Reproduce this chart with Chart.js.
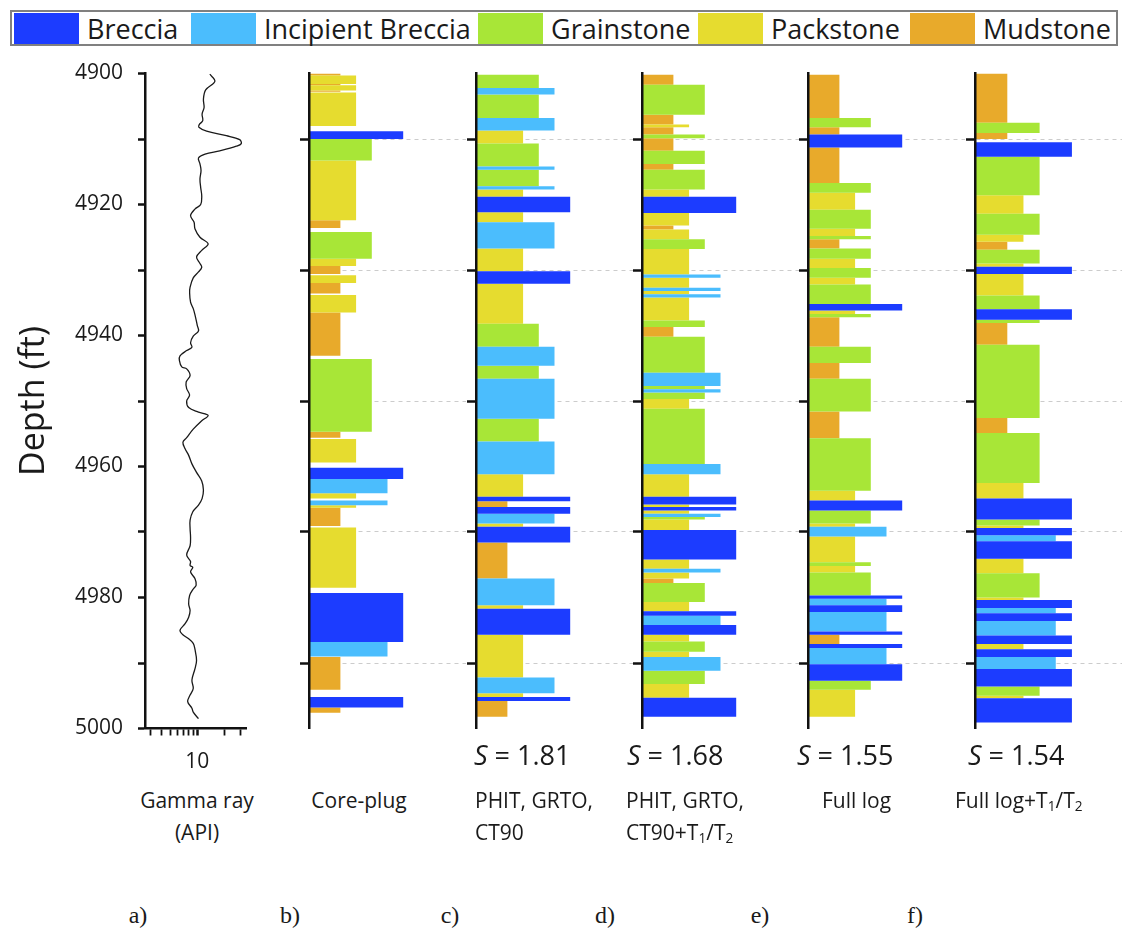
<!DOCTYPE html>
<html>
<head>
<meta charset="utf-8">
<script src="https://cdn.jsdelivr.net/npm/chart.js@4/dist/chart.umd.min.js"></script>
<style>
  body { margin: 0; background: #fff; }
  #page { position: relative; width: 1122px; height: 934px; overflow: hidden;
          font-family: "Open Sans", sans-serif; color: #1a1a1a; }
  canvas { position: absolute; top: 60px; }
  #legend { position: absolute; left: 10px; top: 10px; width: 1108px; height: 36px;
            box-sizing: border-box; border: 2px solid #808080; }
  .lg-item { position: absolute; top: 1px; display: flex; align-items: center; height: 31px; }
  .lg-sw { width: 65px; height: 31px; margin-right: 8px; }
  .lg-tx { font-size: 27px; line-height: 31px; white-space: nowrap; }
  .txt { position: absolute; white-space: nowrap; font-size: 21px; line-height: 32px; }
  .ctr { transform: translateX(-50%); text-align: center; }
  .sval { position: absolute; white-space: nowrap; font-size: 27px; line-height: 36px; }
  .tag { position: absolute; font-family: "Liberation Serif", serif; font-size: 24px;
         line-height: 30px; transform: translateX(-50%); }
  sub { font-size: 0.65em; vertical-align: -0.25em; line-height: 0; }
</style>
</head>
<body>
<div id="page">
  <div id="legend"></div>

  <canvas id="gamma" width="260" height="720" style="left:0px"></canvas>
  <canvas id="colB" width="182" height="720" style="left:284px"></canvas>
  <canvas id="colC" width="182" height="720" style="left:451px"></canvas>
  <canvas id="colD" width="182" height="720" style="left:617px"></canvas>
  <canvas id="colE" width="182" height="720" style="left:783px"></canvas>
  <canvas id="colF" width="172" height="720" style="left:950px"></canvas>

  <div class="txt ctr" style="left:197px; top:784px">Gamma ray<br>(API)</div>
  <div class="txt ctr" style="left:359px; top:784px">Core-plug</div>

  <div class="sval" style="left:474px; top:737px"><i>S</i> = 1.81</div>
  <div class="txt" style="left:475px; top:784px">PHIT, GRTO,<br>CT90</div>

  <div class="sval" style="left:627px; top:737px"><i>S</i> = 1.68</div>
  <div class="txt" style="left:626px; top:784px">PHIT, GRTO,<br>CT90+T<sub>1</sub>/T<sub>2</sub></div>

  <div class="sval" style="left:797px; top:737px"><i>S</i> = 1.55</div>
  <div class="txt" style="left:822px; top:784px">Full log</div>

  <div class="sval" style="left:968px; top:737px"><i>S</i> = 1.54</div>
  <div class="txt" style="left:955px; top:784px">Full log+T<sub>1</sub>/T<sub>2</sub></div>

  <div class="tag" style="left:138px; top:900px">a)</div>
  <div class="tag" style="left:290px; top:900px">b)</div>
  <div class="tag" style="left:450px; top:900px">c)</div>
  <div class="tag" style="left:605px; top:900px">d)</div>
  <div class="tag" style="left:760px; top:900px">e)</div>
  <div class="tag" style="left:915px; top:900px">f)</div>
</div>

<script>
// ---- Facies classes ----------------------------------------------------
const faciesNames  = ['Breccia', 'Incipient Breccia', 'Grainstone', 'Packstone', 'Mudstone'];
const faciesCodes  = ['B', 'IB', 'G', 'P', 'M'];
const faciesRank   = [6, 5, 4, 3, 2];           // bar length of each class
const faciesColors = ['#1c3cff', '#4bbdfd', '#a8e637', '#e6dc2f', '#e8aa2b'];

// ---- Depth axis ---------------------------------------------------------
const depthMin = 4900;
const depthMax = 5000;
const gridDepths = [4910, 4930, 4950, 4970, 4990];

// ---- Gamma ray log (depth ft, API) ---------------------------------------
const gammaDepth = [4900.1, 4901.2, 4902.5, 4903.9, 4905.2, 4906.2, 4907.2, 4907.8, 4908.2, 4908.8,
  4909.5, 4910.1, 4910.7, 4911.1, 4911.8, 4912.3, 4912.9, 4913.8, 4914.8, 4916.1,
  4917.4, 4918.7, 4920.0, 4920.7, 4921.7, 4922.7, 4923.7, 4925.0, 4926.0, 4927.0,
  4928.0, 4929.0, 4929.6, 4930.3, 4931.2, 4932.6, 4933.5, 4934.9, 4935.9, 4936.8,
  4938.5, 4939.3, 4940.1, 4941.1, 4941.8, 4942.3, 4943.1, 4943.8, 4944.8, 4945.1,
  4946.1, 4947.1, 4948.1, 4949.1, 4950.0, 4951.0, 4951.7, 4952.2, 4953.0, 4954.3,
  4955.6, 4956.3, 4957.3, 4958.3, 4959.6, 4960.9, 4962.2, 4963.6, 4964.9, 4965.9,
  4966.9, 4968.2, 4969.5, 4970.8, 4972.1, 4973.5, 4974.5, 4975.1, 4975.4, 4976.1,
  4977.1, 4978.1, 4978.7, 4979.7, 4981.0, 4982.0, 4983.0, 4984.0, 4985.0, 4985.7,
  4986.3, 4987.0, 4987.9, 4989.6, 4990.9, 4992.6, 4993.9, 4994.9, 4995.9, 4996.9,
  4997.5, 4998.5];
const gammaApi = [13.8, 15.7, 12.4, 11.7, 11.9, 11.3, 11.5, 10.5, 10.4, 12.7,
  21.1, 29.7, 31.0, 27.3, 17.8, 12.2, 10.3, 10.7, 11.0, 10.7,
  10.9, 11.2, 10.9, 9.4, 8.4, 9.2, 9.4, 10.7, 13.2, 11.2,
  9.8, 10.7, 11.2, 10.3, 9.0, 8.3, 8.2, 8.4, 9.0, 9.4,
  10.0, 10.3, 9.0, 8.4, 8.7, 7.6, 6.4, 6.3, 6.7, 7.6,
  8.3, 7.5, 7.6, 8.2, 7.6, 8.0, 10.3, 13.2, 11.2, 9.0,
  7.6, 6.9, 7.3, 8.0, 8.7, 9.8, 11.2, 11.7, 11.3, 10.3,
  8.9, 8.3, 8.3, 8.4, 8.3, 7.6, 8.4, 8.3, 8.9, 8.4,
  9.4, 9.7, 9.0, 8.2, 8.0, 8.3, 8.0, 7.3, 6.4, 6.9,
  8.0, 9.0, 9.4, 9.8, 9.4, 8.7, 9.0, 8.3, 7.8, 8.7,
  9.0, 10.3];
const apiMin = 2.6;
const apiMax = 35;
const apiTicks = [3, 4, 5, 6, 7, 8, 9, 10, 20, 30];
const apiLabelled = [10];

// ---- Lithology columns: [top ft, base ft, facies] ------------------------
const corePlug = [
  [4900.0, 4900.3, 'M'], [4900.3, 4901.6, 'P'], [4901.6, 4901.8, 'M'], [4901.8, 4902.6, 'P'],
  [4902.6, 4902.8, 'M'], [4902.9, 4908.0, 'P'], [4908.8, 4910.0, 'B'], [4910.0, 4913.3, 'G'],
  [4913.3, 4922.4, 'P'], [4922.4, 4923.6, 'M'], [4924.2, 4928.3, 'G'], [4928.3, 4929.4, 'P'],
  [4929.4, 4930.6, 'M'], [4930.8, 4932.0, 'P'], [4932.0, 4933.6, 'M'], [4933.8, 4936.5, 'P'],
  [4936.5, 4943.1, 'M'], [4943.6, 4954.7, 'G'], [4954.7, 4955.6, 'M'], [4955.8, 4959.4, 'P'],
  [4960.2, 4961.9, 'B'], [4961.9, 4964.1, 'IB'], [4964.1, 4964.9, 'P'], [4965.2, 4965.9, 'IB'],
  [4965.9, 4966.3, 'P'], [4966.3, 4969.1, 'M'], [4969.3, 4978.5, 'P'], [4979.3, 4986.8, 'B'],
  [4986.8, 4989.0, 'IB'], [4989.1, 4994.1, 'M'], [4995.2, 4996.8, 'B'], [4996.8, 4997.6, 'M']
];

const phitGrtoCt90 = [
  [4900.2, 4902.2, 'G'], [4902.2, 4903.2, 'IB'], [4903.2, 4906.8, 'G'], [4906.8, 4908.7, 'IB'],
  [4908.7, 4910.7, 'P'], [4910.7, 4914.2, 'G'], [4914.2, 4914.7, 'IB'], [4914.7, 4917.2, 'G'],
  [4917.2, 4917.7, 'IB'], [4917.7, 4918.8, 'P'], [4918.8, 4921.2, 'B'], [4921.2, 4922.7, 'P'],
  [4922.7, 4926.7, 'IB'], [4926.7, 4930.2, 'P'], [4930.2, 4932.1, 'B'], [4932.1, 4938.2, 'P'],
  [4938.2, 4941.7, 'G'], [4941.7, 4944.6, 'IB'], [4944.6, 4946.6, 'G'], [4946.6, 4952.7, 'IB'],
  [4952.7, 4956.2, 'G'], [4956.2, 4961.2, 'IB'], [4961.2, 4964.6, 'P'], [4964.6, 4965.3, 'B'],
  [4965.3, 4966.2, 'M'], [4966.2, 4967.2, 'B'], [4967.2, 4968.7, 'IB'], [4968.7, 4969.2, 'P'],
  [4969.2, 4971.6, 'B'], [4971.6, 4977.1, 'M'], [4977.1, 4981.2, 'IB'], [4981.2, 4981.7, 'P'],
  [4981.7, 4985.7, 'B'], [4985.7, 4992.2, 'P'], [4992.2, 4994.6, 'IB'], [4994.6, 4995.2, 'P'],
  [4995.2, 4995.8, 'B'], [4995.8, 4998.2, 'M']
];

const phitGrtoCt90T1T2 = [
  [4900.2, 4901.7, 'M'], [4901.7, 4906.3, 'G'], [4906.3, 4907.8, 'M'], [4907.8, 4908.2, 'P'],
  [4908.2, 4909.3, 'M'], [4909.3, 4909.9, 'G'], [4909.9, 4911.8, 'M'], [4911.8, 4913.8, 'G'],
  [4913.8, 4914.7, 'M'], [4914.7, 4917.7, 'G'], [4917.7, 4918.8, 'P'], [4918.8, 4921.3, 'B'],
  [4921.3, 4923.2, 'P'], [4923.2, 4923.8, 'M'], [4923.8, 4925.3, 'P'], [4925.3, 4926.8, 'G'],
  [4926.8, 4930.7, 'P'], [4930.7, 4931.2, 'IB'], [4931.2, 4932.7, 'P'], [4932.7, 4933.2, 'IB'],
  [4933.2, 4933.7, 'P'], [4933.7, 4934.2, 'IB'], [4934.2, 4937.7, 'P'], [4937.7, 4938.7, 'G'],
  [4938.7, 4940.2, 'M'], [4940.2, 4945.7, 'G'], [4945.7, 4947.7, 'IB'], [4947.7, 4948.2, 'G'],
  [4948.2, 4948.7, 'IB'], [4948.7, 4949.7, 'G'], [4949.7, 4951.2, 'P'], [4951.2, 4959.6, 'G'],
  [4959.6, 4961.2, 'IB'], [4961.2, 4964.6, 'P'], [4964.6, 4965.8, 'B'], [4965.8, 4966.2, 'P'],
  [4966.2, 4966.7, 'B'], [4966.7, 4967.2, 'P'], [4967.2, 4967.7, 'IB'], [4967.7, 4968.1, 'G'],
  [4968.1, 4969.7, 'P'], [4969.7, 4974.2, 'B'], [4974.2, 4975.6, 'P'], [4975.6, 4976.2, 'IB'],
  [4976.2, 4977.1, 'P'], [4977.1, 4977.8, 'M'], [4977.8, 4980.7, 'G'], [4980.7, 4982.1, 'P'],
  [4982.1, 4982.8, 'B'], [4982.8, 4984.2, 'IB'], [4984.2, 4985.7, 'B'], [4985.7, 4986.7, 'P'],
  [4986.7, 4988.3, 'G'], [4988.3, 4989.1, 'P'], [4989.1, 4991.2, 'IB'], [4991.2, 4993.2, 'G'],
  [4993.2, 4995.3, 'P'], [4995.3, 4998.2, 'B']
];

const fullLog = [
  [4900.2, 4906.8, 'M'], [4906.8, 4908.2, 'G'], [4908.2, 4909.3, 'M'], [4909.3, 4911.3, 'B'],
  [4911.3, 4916.7, 'M'], [4916.7, 4918.2, 'G'], [4918.2, 4920.8, 'P'], [4920.8, 4923.7, 'G'],
  [4923.7, 4924.8, 'P'], [4924.8, 4925.3, 'G'], [4925.3, 4926.7, 'M'], [4926.7, 4928.3, 'G'],
  [4928.3, 4929.7, 'P'], [4929.7, 4931.2, 'G'], [4931.2, 4932.2, 'P'], [4932.2, 4935.2, 'G'],
  [4935.2, 4936.2, 'B'], [4936.2, 4936.7, 'P'], [4936.7, 4937.2, 'G'], [4937.2, 4941.7, 'M'],
  [4941.7, 4944.2, 'G'], [4944.2, 4946.6, 'M'], [4946.6, 4951.6, 'G'], [4951.6, 4955.7, 'M'],
  [4955.7, 4963.7, 'G'], [4963.7, 4965.2, 'P'], [4965.2, 4966.7, 'B'], [4966.7, 4968.7, 'G'],
  [4968.7, 4969.2, 'P'], [4969.2, 4970.7, 'IB'], [4970.7, 4974.6, 'P'], [4974.6, 4975.2, 'G'],
  [4975.2, 4976.2, 'P'], [4976.2, 4979.7, 'G'], [4979.7, 4980.2, 'B'], [4980.2, 4981.2, 'IB'],
  [4981.2, 4982.2, 'B'], [4982.2, 4985.2, 'IB'], [4985.2, 4985.7, 'B'], [4985.7, 4987.1, 'M'],
  [4987.1, 4987.7, 'B'], [4987.7, 4990.2, 'IB'], [4990.2, 4992.7, 'B'], [4992.7, 4994.1, 'G'],
  [4994.1, 4998.2, 'P']
];

const fullLogT1T2 = [
  [4900.0, 4907.5, 'M'], [4907.5, 4909.1, 'G'], [4909.1, 4910.0, 'M'], [4910.5, 4912.7, 'B'],
  [4912.7, 4918.6, 'G'], [4918.6, 4921.4, 'P'], [4921.4, 4924.6, 'G'], [4924.6, 4925.7, 'P'],
  [4925.7, 4926.9, 'M'], [4926.9, 4929.0, 'G'], [4929.0, 4929.5, 'P'], [4929.5, 4930.6, 'B'],
  [4930.6, 4933.9, 'P'], [4933.9, 4936.0, 'G'], [4936.0, 4937.6, 'B'], [4937.6, 4938.1, 'G'],
  [4938.1, 4941.4, 'M'], [4941.4, 4952.6, 'G'], [4952.6, 4954.9, 'M'], [4954.9, 4962.5, 'G'],
  [4962.5, 4964.9, 'P'], [4964.9, 4968.1, 'B'], [4968.1, 4969.0, 'G'], [4969.0, 4969.4, 'P'],
  [4969.4, 4970.5, 'B'], [4970.5, 4971.4, 'IB'], [4971.4, 4974.1, 'B'], [4974.1, 4976.3, 'P'],
  [4976.3, 4980.0, 'G'], [4980.0, 4980.4, 'P'], [4980.4, 4981.6, 'B'], [4981.6, 4982.4, 'IB'],
  [4982.4, 4983.6, 'B'], [4983.6, 4985.8, 'IB'], [4985.8, 4987.1, 'B'], [4987.1, 4987.9, 'P'],
  [4987.9, 4989.1, 'B'], [4989.1, 4990.9, 'IB'], [4990.9, 4993.6, 'B'], [4993.6, 4995.0, 'G'],
  [4995.0, 4995.4, 'P'], [4995.4, 4999.1, 'B']
];

// ---- Legend --------------------------------------------------------------
const legendLefts = [2, 179, 466, 686, 898];
const legendEl = document.getElementById('legend');
faciesNames.forEach((name, i) => {
  const item = document.createElement('div');
  item.className = 'lg-item';
  item.style.left = legendLefts[i] + 'px';
  const sw = document.createElement('div');
  sw.className = 'lg-sw';
  sw.style.background = faciesColors[i];
  const tx = document.createElement('div');
  tx.className = 'lg-tx';
  tx.textContent = name;
  item.appendChild(sw);
  item.appendChild(tx);
  legendEl.appendChild(item);
});

// ---- Shared settings -----------------------------------------------------
const AXIS_COLOR = '#111';
const AREA_TOP = 13.5;       // canvas px above the depth axis
const AREA_BOTTOM = 51.5;    // canvas px below the depth axis
const labelFont = { family: '"Open Sans", sans-serif', size: 21 };

Chart.defaults.animation = false;
Chart.defaults.events = [];
Chart.defaults.plugins.legend.display = false;
Chart.defaults.plugins.tooltip.enabled = false;

// ---- a) Gamma ray panel --------------------------------------------------
new Chart(document.getElementById('gamma'), {
  type: 'line',
  data: {
    datasets: [{
      data: gammaDepth.map((d, i) => ({ x: gammaApi[i], y: d })),
      borderColor: '#1a1a1a',
      borderWidth: 1.3,
      pointRadius: 0,
      tension: 0.35,
      fill: false
    }]
  },
  options: {
    responsive: false,
    devicePixelRatio: 1,
    layout: { padding: { top: AREA_TOP, right: 14, left: 0, bottom: 0 } },
    scales: {
      x: {
        type: 'logarithmic',
        min: apiMin, max: apiMax,
        afterBuildTicks: s => { s.ticks = apiTicks.map(v => ({ value: v })); },
        afterFit: s => { s.height = AREA_BOTTOM; },
        border: { color: AXIS_COLOR, width: 2.5 },
        grid: {
          drawOnChartArea: false, tickLength: 7, tickColor: AXIS_COLOR,
          tickWidth: c => (c.tick && apiLabelled.includes(c.tick.value)) ? 2.5 : 1.8
        },
        ticks: {
          autoSkip: false, maxRotation: 0, padding: 14, color: '#1a1a1a', font: labelFont,
          callback: v => apiLabelled.includes(v) ? String(v) : ''
        }
      },
      y: {
        type: 'linear', reverse: true, min: depthMin, max: depthMax,
        // keep the plot top/bottom aligned with the lithology columns
        afterFit: s => { s.width = 145; s.paddingTop = 0; s.paddingBottom = 0; },
        border: { color: AXIS_COLOR, width: 2.5 },
        grid: { drawOnChartArea: false, tickLength: 7, tickColor: AXIS_COLOR, tickWidth: 2.5 },
        ticks: {
          stepSize: 10, padding: 15, color: '#1a1a1a', font: labelFont,
          callback: v => (v % 20 === 0) ? String(v) : ''
        },
        title: {
          display: true, text: 'Depth (ft)', color: '#1a1a1a',
          font: { family: '"Open Sans", sans-serif', size: 34 },
          padding: { top: 14, bottom: 0 }
        }
      }
    }
  }
});

// ---- b)–f) Lithology columns ---------------------------------------------
function faciesDatasets(intervals) {
  return faciesCodes.map((code, k) => {
    const pts = [];
    intervals.filter(iv => iv[2] === code).forEach(([top, base]) => {
      const len = faciesRank[k];
      pts.push({ x: 0, y: top }, { x: len, y: top }, { x: len, y: base },
               { x: 0, y: base }, { x: 0, y: null });
    });
    return {
      label: faciesNames[k],
      data: pts,
      fill: 'shape',
      backgroundColor: faciesColors[k],
      borderColor: faciesColors[k],
      borderWidth: 0,
      pointRadius: 0,
      spanGaps: false,
      tension: 0
    };
  });
}

function lithologyColumn(id, intervals, xMax) {
  new Chart(document.getElementById(id), {
    type: 'line',
    data: { datasets: faciesDatasets(intervals) },
    options: {
      responsive: false,
      devicePixelRatio: 1,
      layout: { padding: { top: AREA_TOP, bottom: AREA_BOTTOM, left: 0, right: 0 } },
      scales: {
        x: { type: 'linear', min: 0, max: xMax, display: false },
        y: {
          type: 'linear', reverse: true, min: depthMin, max: depthMax,
          afterBuildTicks: s => { s.ticks = gridDepths.map(v => ({ value: v })); },
          afterFit: s => { s.width = 25; },
          border: { color: AXIS_COLOR, width: 2.5, z: 1, dash: [4, 4] },
          grid: { color: '#cccccc', lineWidth: 1, tickLength: 9, tickColor: AXIS_COLOR, tickWidth: 2.5 },
          ticks: { display: false }
        }
      }
    }
  });
}

lithologyColumn('colB', corePlug, 10);
lithologyColumn('colC', phitGrtoCt90, 10);
lithologyColumn('colD', phitGrtoCt90T1T2, 10);
lithologyColumn('colE', fullLog, 10);
lithologyColumn('colF', fullLogT1T2, 9.1);
</script>
</body>
</html>
